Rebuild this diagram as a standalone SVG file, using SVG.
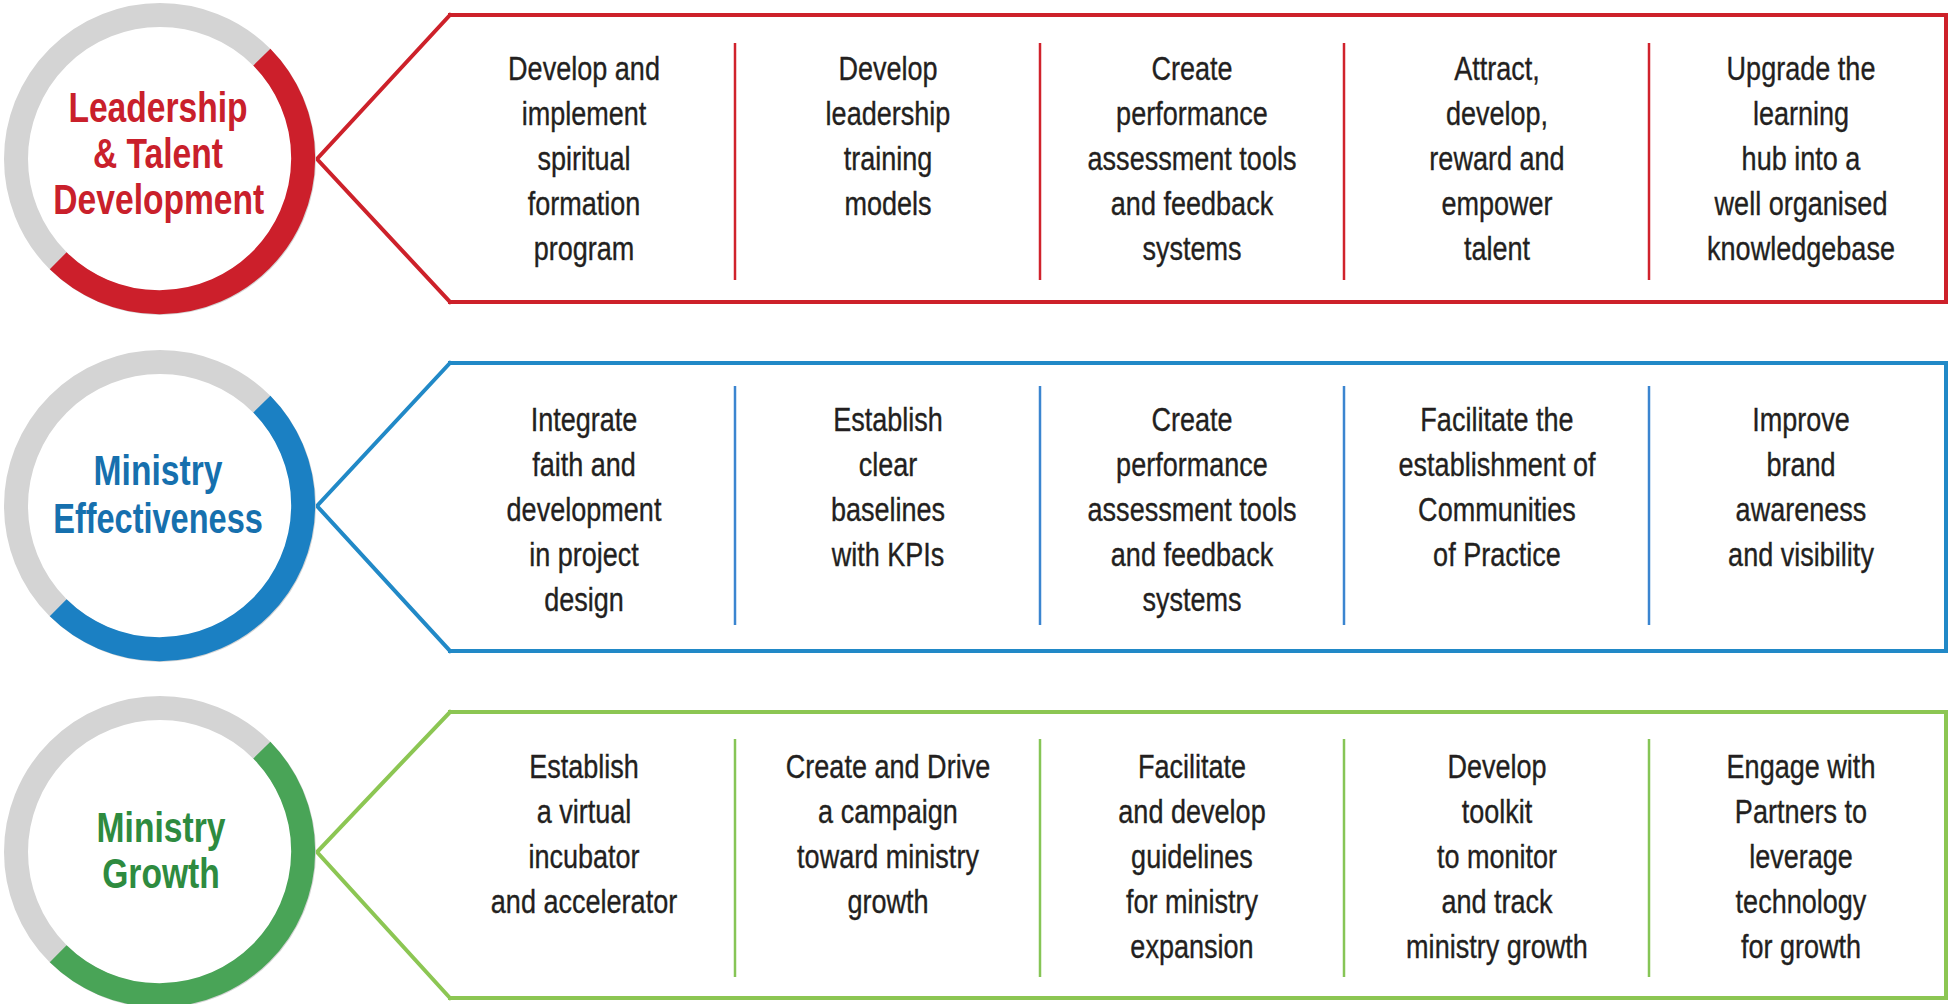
<svg xmlns="http://www.w3.org/2000/svg" width="1948" height="1004" viewBox="0 0 1948 1004">
<style>
.ring{fill:#ffffff;stroke:#D4D4D4;stroke-width:24}
.arc{fill:none;stroke-width:24}
.title{font-family:"Liberation Sans",Arial,sans-serif;font-weight:bold;font-size:42px;text-anchor:middle}
.body{font-family:"Liberation Sans",Arial,sans-serif;font-size:33px;fill:#231F20;stroke:#231F20;stroke-width:0.35;text-anchor:middle}
.box{fill:none;stroke-width:4;stroke-linecap:square}
.div{stroke-width:2.5}
.conn{fill:none;stroke-width:4;stroke-linejoin:miter;stroke-linecap:square}
.red .title{fill:#C9202B}
.blue .title{fill:#1670AE}
.green .title{fill:#2E8B3F}
</style>
<rect width="1948" height="1004" fill="#ffffff"/>
<g id="connectors">
<polyline class="conn" stroke="#CD212A" points="450,15 317,159 450,302"/>
<polyline class="conn" stroke="#2189C7" points="450,363 317,506 450,651"/>
<polyline class="conn" stroke="#8CC653" points="450,712 317,852 450,998"/>
</g>
<g id="circle-leadership" class="red">
<circle class="ring" cx="160" cy="159" r="144"/>
<path class="arc" stroke="#CC1F2B" d="M261.82,57.18 A144,144 0 0 1 58.18,260.82"/>
<text class="title" transform="matrix(0.8 0 0 1 158 0)"><tspan x="0" y="122">Leadership</tspan><tspan x="0" y="168">&amp; Talent</tspan><tspan x="1" y="214">Development</tspan></text>
</g>
<g id="circle-effectiveness" class="blue">
<circle class="ring" cx="160" cy="506" r="144"/>
<path class="arc" stroke="#1B80C3" d="M261.82,404.18 A144,144 0 0 1 58.18,607.82"/>
<text class="title" transform="matrix(0.8 0 0 1 158 0)"><tspan x="0" y="485">Ministry</tspan><tspan x="0" y="533" textLength="262" lengthAdjust="spacingAndGlyphs">Effectiveness</tspan></text>
</g>
<g id="circle-growth" class="green">
<circle class="ring" cx="160" cy="852" r="144"/>
<path class="arc" stroke="#49A457" d="M261.82,750.18 A144,144 0 0 1 58.18,953.82"/>
<text class="title" transform="matrix(0.8 0 0 1 161 0)"><tspan x="0" y="842">Ministry</tspan><tspan x="0" y="888">Growth</tspan></text>
</g>
<g id="box-leadership">
<path class="box" stroke="#CD212A" d="M450,15 H1946 V302 H450"/>
<g class="div" stroke="#D0222C">
<line x1="735" y1="43" x2="735" y2="280"/><line x1="1040" y1="43" x2="1040" y2="280"/><line x1="1344" y1="43" x2="1344" y2="280"/><line x1="1649" y1="43" x2="1649" y2="280"/>
</g>
<text class="body" transform="matrix(0.82 0 0 1 584 0)"><tspan x="0" y="80">Develop and</tspan><tspan x="0" y="125">implement</tspan><tspan x="0" y="170">spiritual</tspan><tspan x="0" y="215">formation</tspan><tspan x="0" y="260">program</tspan></text>
<text class="body" transform="matrix(0.82 0 0 1 888 0)"><tspan x="0" y="80">Develop</tspan><tspan x="0" y="125">leadership</tspan><tspan x="0" y="170">training</tspan><tspan x="0" y="215">models</tspan></text>
<text class="body" transform="matrix(0.82 0 0 1 1192 0)"><tspan x="0" y="80">Create</tspan><tspan x="0" y="125">performance</tspan><tspan x="0" y="170">assessment tools</tspan><tspan x="0" y="215">and feedback</tspan><tspan x="0" y="260">systems</tspan></text>
<text class="body" transform="matrix(0.82 0 0 1 1497 0)"><tspan x="0" y="80">Attract,</tspan><tspan x="0" y="125">develop,</tspan><tspan x="0" y="170">reward and</tspan><tspan x="0" y="215">empower</tspan><tspan x="0" y="260">talent</tspan></text>
<text class="body" transform="matrix(0.82 0 0 1 1801 0)"><tspan x="0" y="80">Upgrade the</tspan><tspan x="0" y="125">learning</tspan><tspan x="0" y="170">hub into a</tspan><tspan x="0" y="215">well organised</tspan><tspan x="0" y="260">knowledgebase</tspan></text>
</g>
<g id="box-effectiveness">
<path class="box" stroke="#2189C7" d="M450,363 H1946 V651 H450"/>
<g class="div" stroke="#3B85D0">
<line x1="735" y1="386" x2="735" y2="625"/><line x1="1040" y1="386" x2="1040" y2="625"/><line x1="1344" y1="386" x2="1344" y2="625"/><line x1="1649" y1="386" x2="1649" y2="625"/>
</g>
<text class="body" transform="matrix(0.82 0 0 1 584 0)"><tspan x="0" y="431">Integrate</tspan><tspan x="0" y="476">faith and</tspan><tspan x="0" y="521">development</tspan><tspan x="0" y="566">in project</tspan><tspan x="0" y="611">design</tspan></text>
<text class="body" transform="matrix(0.82 0 0 1 888 0)"><tspan x="0" y="431">Establish</tspan><tspan x="0" y="476">clear</tspan><tspan x="0" y="521">baselines</tspan><tspan x="0" y="566">with KPIs</tspan></text>
<text class="body" transform="matrix(0.82 0 0 1 1192 0)"><tspan x="0" y="431">Create</tspan><tspan x="0" y="476">performance</tspan><tspan x="0" y="521">assessment tools</tspan><tspan x="0" y="566">and feedback</tspan><tspan x="0" y="611">systems</tspan></text>
<text class="body" transform="matrix(0.82 0 0 1 1497 0)"><tspan x="0" y="431">Facilitate the</tspan><tspan x="0" y="476">establishment of</tspan><tspan x="0" y="521">Communities</tspan><tspan x="0" y="566">of Practice</tspan></text>
<text class="body" transform="matrix(0.82 0 0 1 1801 0)"><tspan x="0" y="431">Improve</tspan><tspan x="0" y="476">brand</tspan><tspan x="0" y="521">awareness</tspan><tspan x="0" y="566">and visibility</tspan></text>
</g>
<g id="box-growth">
<path class="box" stroke="#8CC653" d="M450,712 H1946 V998 H450"/>
<g class="div" stroke="#86C556">
<line x1="735" y1="739" x2="735" y2="977"/><line x1="1040" y1="739" x2="1040" y2="977"/><line x1="1344" y1="739" x2="1344" y2="977"/><line x1="1649" y1="739" x2="1649" y2="977"/>
</g>
<text class="body" transform="matrix(0.82 0 0 1 584 0)"><tspan x="0" y="778">Establish</tspan><tspan x="0" y="823">a virtual</tspan><tspan x="0" y="868">incubator</tspan><tspan x="0" y="913">and accelerator</tspan></text>
<text class="body" transform="matrix(0.82 0 0 1 888 0)"><tspan x="0" y="778">Create and Drive</tspan><tspan x="0" y="823">a campaign</tspan><tspan x="0" y="868">toward ministry</tspan><tspan x="0" y="913">growth</tspan></text>
<text class="body" transform="matrix(0.82 0 0 1 1192 0)"><tspan x="0" y="778">Facilitate</tspan><tspan x="0" y="823">and develop</tspan><tspan x="0" y="868">guidelines</tspan><tspan x="0" y="913">for ministry</tspan><tspan x="0" y="958">expansion</tspan></text>
<text class="body" transform="matrix(0.82 0 0 1 1497 0)"><tspan x="0" y="778">Develop</tspan><tspan x="0" y="823">toolkit</tspan><tspan x="0" y="868">to monitor</tspan><tspan x="0" y="913">and track</tspan><tspan x="0" y="958">ministry growth</tspan></text>
<text class="body" transform="matrix(0.82 0 0 1 1801 0)"><tspan x="0" y="778">Engage with</tspan><tspan x="0" y="823">Partners to</tspan><tspan x="0" y="868">leverage</tspan><tspan x="0" y="913">technology</tspan><tspan x="0" y="958">for growth</tspan></text>
</g>
</svg>
